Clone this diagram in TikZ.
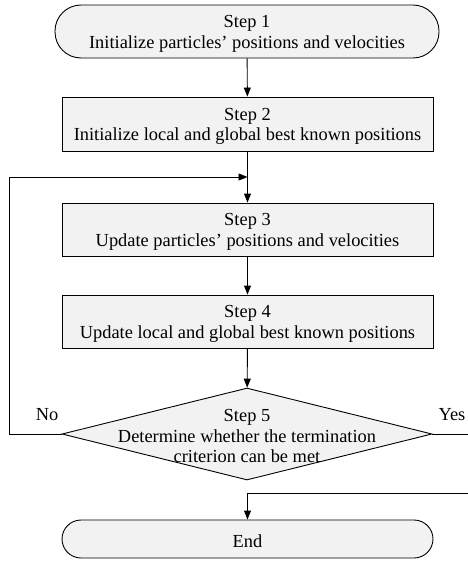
\documentclass[tikz,border=0pt]{standalone}
\usepackage{fontspec}
\setmainfont{Liberation Serif}
\usetikzlibrary{arrows.meta,shapes.geometric}
\newcommand{\topstrut}{\rule{0pt}{16.5pt}}
\begin{document}
\begin{tikzpicture}[x=1pt,y=1pt,
  every node/.style={font=\fontsize{18.4}{20.5}\selectfont},
  box/.style={draw, line width=0.9pt, fill=boxgray, minimum width=371pt, minimum height=53pt, align=center, inner sep=0pt},
  term/.style={box, rounded corners=26pt},
  dia/.style={draw, line width=0.9pt, fill=boxgray, diamond, minimum width=370pt, minimum height=92pt, inner sep=0pt},
  conn/.style={line width=0.9pt},
  arr/.style={conn, -{Triangle[length=9pt,width=7pt]}}
]
\definecolor{boxgray}{HTML}{F2F2F2}
\useasboundingbox (0,0) rectangle (468,-562);
\node[term, minimum width=384pt] (s1) at (247,-31.5) {\topstrut Step 1\\Initialize particles’ positions and velocities};
\node[box, minimum height=54pt] (s2) at (247.5,-124) {\topstrut Step 2\\Initialize local and global best known positions};
\node[box] (s3) at (247.5,-229.5) {\topstrut Step 3\\Update particles’ positions and velocities};
\node[box] (s4) at (247.5,-321.5) {\topstrut Step 4\\Update local and global best known positions};
\node[dia] (s5) at (247,-434) {};
\node[align=center] (s5t) at (247,-434) {\topstrut Step 5\\Determine whether the termination\\criterion can be met};
\node[term, minimum height=38pt, rounded corners=19pt] (end) at (247.5,-539) {\topstrut End};
\node (no) at (47,-415) {No};
\node (yes) at (452,-415) {Yes};
\coordinate (join) at (247.5,-177);
\coordinate (lc1) at (9,-434);
\coordinate (lc2) at (9,-177);
\coordinate (rc1) at (470,-434);
\coordinate (rc2) at (470,-493);
\coordinate (rc3) at (247.5,-493);
\draw[arr] (s1) -- (s2);
\draw[arr] (s2) -- (s3);
\draw[arr] (s3) -- (s4);
\draw[arr] (s4) -- (s5);
\draw[arr] (s5.west) -- (lc1) -- (lc2) -- (join);
\draw[conn] (s5.east) -- (rc1);
\draw[arr] (rc2) -- (rc3) -- (end);
\end{tikzpicture}
\end{document}
